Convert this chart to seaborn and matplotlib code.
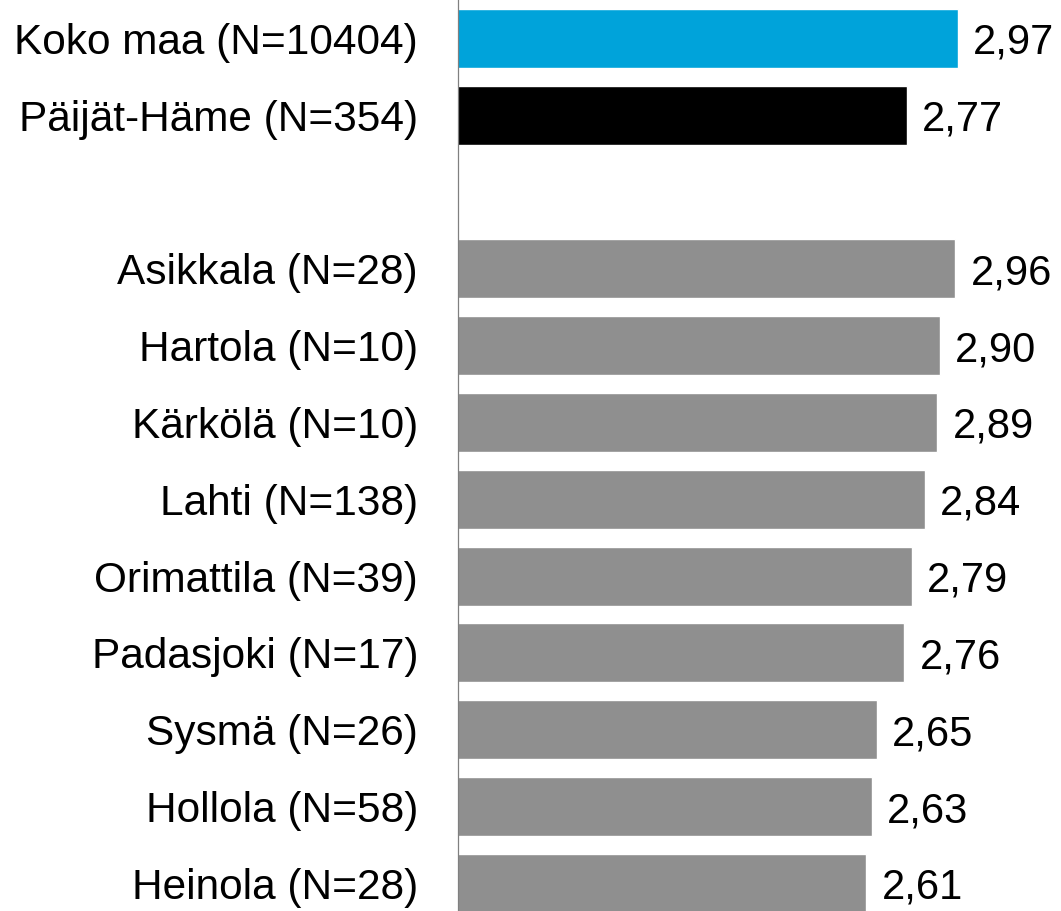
import matplotlib
matplotlib.use("Agg")
import matplotlib.pyplot as plt
import seaborn as sns
import pandas as pd

categories = ["Koko maa (N=10404)", "Päijät-Häme (N=354)",
              "Asikkala (N=28)", "Hartola (N=10)", "Kärkölä (N=10)",
              "Lahti (N=138)", "Orimattila (N=39)", "Padasjoki (N=17)",
              "Sysmä (N=26)", "Hollola (N=58)", "Heinola (N=28)"]
values = [2.97, 2.77, 2.96, 2.90, 2.89, 2.84, 2.79, 2.76, 2.65, 2.63, 2.61]
groups = ["koko", "maakunta"] + ["kunta"] * 9
order = categories[:2] + [" "] + categories[2:]
palette = {"koko": "#00A3DA", "maakunta": "#000000", "kunta": "#8F8F8F"}

df = pd.DataFrame({"cat": categories, "val": values, "grp": groups})

sns.set_theme(style="white")
plt.rcParams["font.family"] = ["Liberation Sans", "DejaVu Sans"]

fig = plt.figure(figsize=(10.61, 9.11), dpi=100)
ax = fig.add_axes([458.3 / 1061, 0, 1 - 458.3 / 1061, 1])

sns.barplot(data=df, x="val", y="cat", hue="grp", order=order,
            hue_order=["koko", "maakunta", "kunta"], palette=palette,
            dodge=False, legend=False, width=0.77, ax=ax, orient="h",
            saturation=1)

for cont in ax.containers:
    labs = []
    for b in cont:
        w = b.get_width()
        labs.append("" if (w != w or w == 0) else f"{w:.2f}".replace(".", ","))
    texts = ax.bar_label(cont, labels=labs, padding=11, fontsize=30, color="black")
    for t in texts:
        t.set_va("center_baseline")

ax.set_xlim(1, 1 + (1061 - 458.3) / 253.5)
ax.set_ylim(11.36, -0.5)
ax.set_xlabel("")
ax.set_ylabel("")
ax.set_xticks([])
ax.tick_params(axis="y", length=0, pad=29, labelsize=30.5, labelcolor="black")
for s in ["top", "right", "bottom"]:
    ax.spines[s].set_visible(False)
ax.spines["left"].set_color("#808080")
ax.spines["left"].set_linewidth(0.9)

fig.savefig("out.png", dpi=100)
